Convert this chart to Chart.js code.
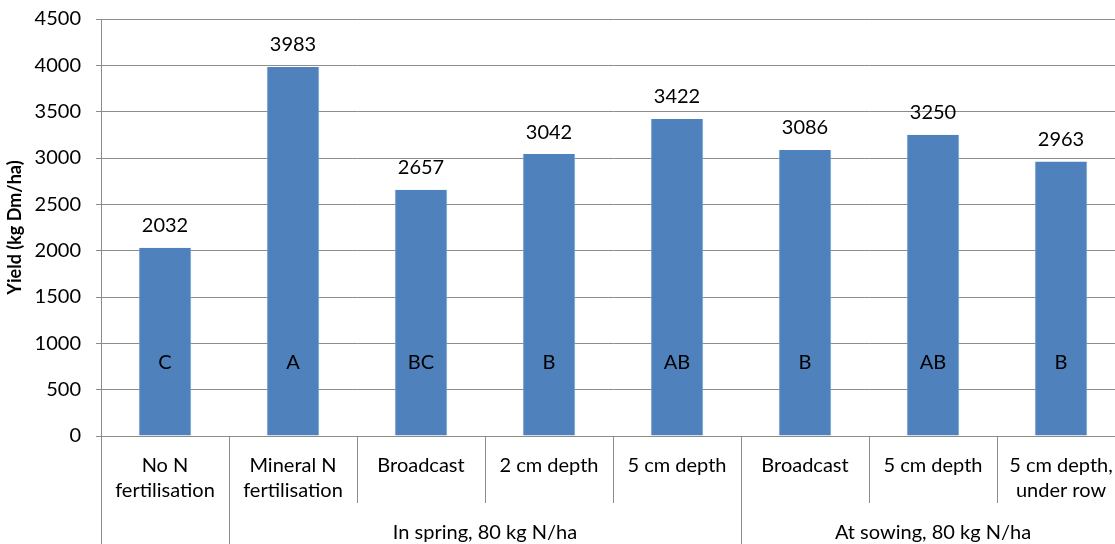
<!DOCTYPE html>
<html>
<head>
<meta charset="utf-8">
<script src="https://cdn.jsdelivr.net/npm/chart.js@4"></script>
<style>
  html, body { margin: 0; padding: 0; background: #fff; overflow: hidden; }
  #wrap { width: 1115px; height: 544px; overflow: hidden; }
</style>
</head>
<body>
<div id="wrap"><canvas id="yieldChart" width="1125" height="544"></canvas></div>
<script>
// chart data
const categories = [
  ['No N', 'fertilisation'],
  ['Mineral N', 'fertilisation'],
  ['Broadcast'],
  ['2 cm depth'],
  ['5 cm depth'],
  ['Broadcast'],
  ['5 cm depth'],
  ['5 cm depth,', 'under row']
];
const yields = [2032, 3983, 2657, 3042, 3422, 3086, 3250, 2963];
const letters = ['C', 'A', 'BC', 'B', 'AB', 'B', 'AB', 'B'];
const groupLabels = ['', 'In spring, 80 kg N/ha', 'At sowing, 80 kg N/ha'];
const groupSizes = [1, 4, 3];
const yTicks = [0, 500, 1000, 1500, 2000, 2500, 3000, 3500, 4000, 4500];

const FONT = 'Lato, "Open Sans", sans-serif';
const GRID = '#8c8c8c';

// draws value labels, letters and the two-level category axis
const labelsPlugin = {
  id: 'labelsPlugin',
  afterDatasetsDraw(chart) {
    const ctx = chart.ctx;
    const x = chart.scales.x;
    const y = chart.scales.y;
    const area = chart.chartArea;
    const meta = chart.getDatasetMeta(0);

    ctx.save();
    ctx.fillStyle = '#000';
    ctx.font = '20px ' + FONT;
    ctx.textAlign = 'center';
    ctx.textBaseline = 'middle';

    // numbers above bars
    meta.data.forEach((bar, i) => {
      ctx.fillText(String(yields[i]), bar.x, bar.y - 22);
    });

    // significance letters inside bars
    meta.data.forEach((bar, i) => {
      ctx.fillText(letters[i], bar.x, y.getPixelForValue(790));
    });

    // category boundaries
    const n = categories.length;
    const step = (area.right - area.left) / n;
    const edge = i => area.left + step * i;

    // group boundaries extend to the bottom
    const groupEdges = [0];
    groupSizes.forEach(s => groupEdges.push(groupEdges[groupEdges.length - 1] + s));

    ctx.strokeStyle = GRID;
    ctx.lineWidth = 1;
    for (let i = 0; i < n; i++) {
      const px = Math.round(edge(i)) + 0.5;
      const full = groupEdges.includes(i);
      ctx.beginPath();
      ctx.moveTo(px, area.bottom);
      ctx.lineTo(px, full ? chart.height : area.bottom + 67);
      ctx.stroke();
    }

    // first row labels
    categories.forEach((lines, i) => {
      const cx = x.getPixelForValue(i);
      lines.forEach((t, j) => {
        ctx.fillText(t, cx, area.bottom + 30 + j * 25);
      });
    });

    // second row (group) labels
    groupLabels.forEach((t, g) => {
      if (!t) return;
      const cx = (edge(groupEdges[g]) + edge(groupEdges[g + 1])) / 2;
      ctx.fillText(t, cx, area.bottom + 97);
    });

    ctx.restore();
  }
};

new Chart(document.getElementById('yieldChart'), {
  type: 'bar',
  data: {
    labels: categories.map(c => c.join(' ')),
    datasets: [{
      data: yields,
      backgroundColor: '#4f81bd',
      borderColor: '#7da1cf',
      borderWidth: { left: 1, right: 1, top: 0, bottom: 0 },
      categoryPercentage: 1,
      barPercentage: 0.41
    }]
  },
  options: {
    responsive: false,
    animation: false,
    layout: { padding: { top: 19, right: 0, bottom: 108, left: 0 } },
    plugins: {
      legend: { display: false },
      tooltip: { enabled: false }
    },
    scales: {
      x: {
        display: false
      },
      y: {
        min: 0,
        max: 4500,
        afterBuildTicks(scale) {
          scale.ticks = yTicks.map(v => ({ value: v }));
        },
        afterFit(scale) {
          scale.width = 101;
          scale.paddingTop = 0;
          scale.paddingBottom = 0;
        },
        border: { color: GRID, width: 1 },
        grid: { color: GRID, lineWidth: 1, tickLength: 5, drawTicks: true },
        ticks: {
          color: '#000',
          padding: 15,
          font: { family: FONT, size: 20 },
          callback: v => String(v)
        },
        title: {
          display: true,
          text: 'Yield (kg Dm/ha)',
          color: '#000',
          padding: { top: 4, bottom: 0 },
          font: { family: FONT, size: 18, weight: 'bold' }
        }
      }
    }
  },
  plugins: [labelsPlugin]
});
</script>
</body>
</html>
